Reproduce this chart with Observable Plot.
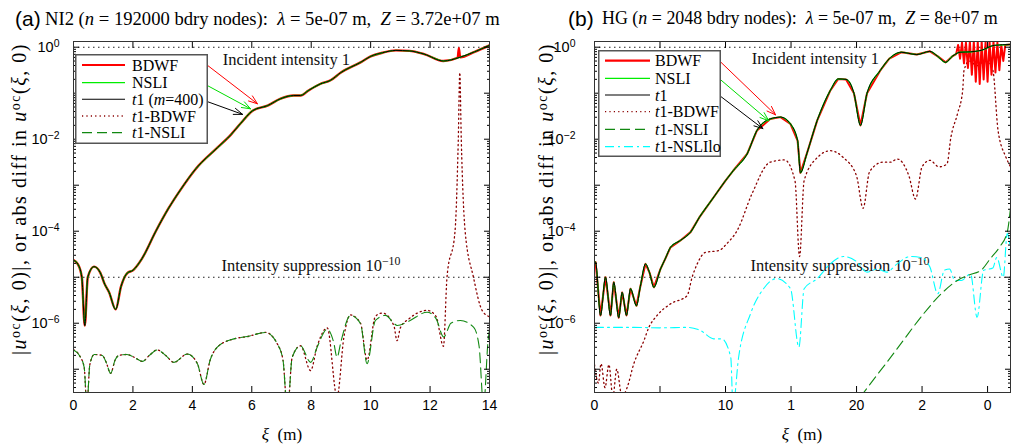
<!DOCTYPE html>
<html><head><meta charset="utf-8">
<script src="https://cdn.jsdelivr.net/npm/d3@7"></script>
<script src="https://cdn.jsdelivr.net/npm/@observablehq/plot@0.6"></script>
<style>
body{margin:0;background:#fff;width:1013px;height:445px;overflow:hidden;position:relative;font-family:"Liberation Serif",serif;color:#000;}
.abs{position:absolute;white-space:nowrap;font-family:"Liberation Serif",serif;}
.ttl{font-size:18px;line-height:1;}
.lab{font-family:"Liberation Sans",Arial,sans-serif;font-size:21px;line-height:1;}
.ylab{font-size:20px;line-height:1;transform:translate(-50%,-50%) rotate(-90deg);}
.xlab{font-size:17px;line-height:1;transform:translate(-50%,-50%);}
i{font-style:italic;}
sup{font-size:70%;vertical-align:0.45em;line-height:0;}
</style></head><body>
<div id="root"></div>
<script>
// ---------------- DATA (y values stored as log10) ----------------
// Panel (a)
const aMainXi  = [0,0.15,0.28,0.38,0.48,0.69,0.9,1.05,1.2,1.42,1.6,1.81,2.0,2.3,2.77,3.2,3.6,4.12,4.85,5.3,5.62,6.03,6.53,6.97,7.41,7.64,7.91,8.3,8.65,9.0,9.66,10.0,10.4,10.85,11.3,11.8,12.45,13.0,13.5,14.0];
const aMainLog = [-4.63,-4.72,-5.0,-6.05,-5.0,-4.77,-4.9,-5.15,-5.33,-5.70,-5.2,-4.91,-4.85,-4.6,-4.0,-3.5,-3.1,-2.64,-2.18,-1.9,-1.66,-1.38,-1.27,-1.12,-1.05,-1.05,-0.94,-0.8,-0.72,-0.55,-0.33,-0.2,-0.12,-0.07,-0.08,-0.15,-0.30,-0.22,-0.1,0.04];
const aRedSpikeXi  = [12.93,12.97,13.01];
const aRedSpikeLog = [-0.23,-0.02,-0.22];
const aNsliXi  = [0,0.2,0.36,0.45,0.55,0.70,0.97,1.1,1.25,1.4,1.53,1.8,2.04,2.32,2.55,2.82,3.1,3.38,3.83,4.17,4.39,4.6,4.84,5.4,5.85,6.46,6.86,7.05,7.2,7.36,7.64,7.98,8.2,8.54,8.75,8.87,9.0,9.32,9.66,9.88,10.16,10.5,10.78,10.89,11.3,11.9,12.2,12.46,12.7,13.02,13.47,13.65,13.8,13.95,14.0];
const aNsliLog = [-6.58,-6.7,-6.96,-7.8,-6.9,-6.68,-6.70,-6.85,-7.09,-6.8,-6.70,-6.68,-6.74,-6.83,-6.7,-6.58,-6.7,-6.85,-6.67,-6.88,-7.33,-6.8,-6.52,-6.34,-6.29,-6.20,-6.45,-6.8,-7.9,-6.74,-6.49,-6.85,-6.52,-6.13,-6.4,-6.74,-6.4,-5.83,-6.01,-6.88,-5.94,-5.83,-6.0,-6.05,-5.95,-5.76,-5.9,-6.30,-6.0,-5.94,-6.09,-6.5,-7.8,-6.4,-6.14];
const aBdwfXi  = [0,0.2,0.36,0.45,0.55,0.70,0.97,1.1,1.25,1.4,1.53,1.8,2.04,2.32,2.55,2.82,3.1,3.38,3.83,4.17,4.39,4.6,4.84,5.4,5.85,6.46,6.86,7.05,7.2,7.36,7.64,7.98,8.2,8.54,8.87,9.1,9.32,9.66,9.88,10.16,10.4,10.78,10.89,11.0,11.3,11.9,12.2,12.45,12.57,12.84,12.95,13.0,13.05,13.18,13.46,13.75,14.0];
const aBdwfLog = [-6.58,-6.7,-6.96,-7.8,-6.9,-6.68,-6.70,-6.85,-7.09,-6.8,-6.70,-6.68,-6.74,-6.83,-6.7,-6.58,-6.7,-6.85,-6.67,-6.88,-7.33,-6.8,-6.52,-6.34,-6.29,-6.20,-6.45,-6.8,-7.9,-6.74,-6.49,-7.03,-6.5,-6.1,-7.6,-6.3,-5.82,-6.0,-6.8,-5.85,-5.78,-6.05,-6.38,-6.1,-5.9,-5.72,-5.85,-6.5,-5.0,-4.0,-2.0,-0.55,-2.0,-4.0,-5.0,-5.72,-5.86];

// Panel (b)
const bMainXi  = [0,0.08,0.46,0.84,1.22,1.47,1.85,2.11,2.44,2.75,3.2,3.5,3.89,4.2,4.53,5.04,5.4,5.8,6.56,7.33,8.0,9.0,10.0,10.6,11.65,12.4,13.4,14.2,14.96,15.5,15.72,16.2,17.0,18.0,18.6,19.2,19.8,20.3,20.8,21.8,22.5,23.4,24.6,25.6,26.2,26.8,27.3,27.9,28.7,29.5,30.5,31.75];
const bMainLog = [-4.67,-4.67,-5.83,-5.0,-5.83,-5.11,-5.88,-5.33,-5.83,-5.25,-5.62,-5.2,-4.71,-4.9,-5.22,-4.82,-4.6,-4.35,-4.20,-4.02,-3.7,-3.3,-2.9,-2.68,-2.32,-1.81,-1.56,-1.52,-1.67,-2.03,-2.73,-2.32,-1.59,-0.94,-0.69,-0.7,-1.0,-1.7,-1.0,-0.51,-0.25,-0.11,-0.16,-0.09,-0.2,-0.33,-0.2,-0.11,-0.1,-0.07,0.04,0.06];
const bRedNoiseXi  = [27.6,27.75,27.9,28.05,28.2,28.35,28.5,28.65,28.8,28.95,29.1,29.25,29.4,29.55,29.7,29.85,30.0,30.15,30.3,30.45,30.6,30.75,30.9,31.05,31.2,31.35];
const bRedNoiseLog = [-0.15,0.05,-0.25,0.1,-0.35,0.1,-0.45,0.12,-0.6,0.12,-0.75,0.12,-0.8,0.12,-0.7,0.12,-0.75,0.12,-0.6,0.12,-0.55,0.1,-0.5,0.05,-0.3,0.05];
const bBdwfXi  = [0,0.3,0.5,0.8,1.1,1.4,1.7,2.1,2.5,3.0,3.77,4.15,4.78,5.8,7.07,7.45,7.84,8.47,9.5,10.1,10.9,12.0,13.4,14.5,15.3,15.65,16.0,17.0,18.0,19.0,20.0,20.5,21.0,22.0,22.6,23.1,24.0,24.5,25.0,25.6,26.3,26.9,27.2,27.7,28.1,28.2,28.6,29.2,29.8,30.4,30.8,31.4,31.75];
const bBdwfLog = [-6.9,-7.3,-6.88,-7.4,-6.9,-7.6,-7.0,-7.6,-7.39,-6.88,-6.38,-6.09,-5.83,-5.58,-5.40,-5.0,-4.71,-4.46,-4.42,-4.27,-3.98,-3.2,-2.5,-2.45,-2.9,-4.55,-2.9,-2.4,-2.25,-2.4,-2.8,-3.5,-2.7,-2.5,-2.5,-2.43,-2.8,-3.3,-2.6,-2.46,-2.6,-2.54,-1.96,-1.45,-0.94,-0.51,-0.3,-0.4,-0.3,-0.5,-1.81,-2.39,-2.6];
const bNsliXi  = [20.3,21.5,22.5,23.5,25.1,26.5,27.7,28.6,29.5,30.2,30.9,31.5,31.75];
const bNsliLog = [-7.6,-7.15,-6.78,-6.4,-5.8,-5.35,-5.07,-4.95,-4.85,-4.6,-4.35,-4.02,-3.5];
const bNsliloXi  = [0,3,5,7.1,8.1,9.1,9.7,10.4,10.57,11.0,11.9,12.9,13.9,14.96,15.6,16.0,17,18,19,20.05,20.8,21.6,22.3,23.1,24.1,24.9,25.6,26.2,26.7,27.1,27.5,28.0,28.7,29.2,29.7,30.4,30.7,31.2,31.5,31.75];
const bNsliloLog = [-6.09,-6.09,-6.1,-6.09,-6.16,-6.34,-6.34,-6.74,-7.8,-6.74,-5.8,-5.25,-5.03,-5.25,-6.52,-5.25,-5.03,-4.71,-4.55,-4.67,-4.89,-4.82,-4.89,-4.71,-4.55,-4.57,-4.78,-5.36,-4.85,-4.82,-5.07,-5.07,-4.93,-5.87,-4.85,-4.8,-4.57,-5.0,-4.05,-4.4];

// reference levels, ticks, labels ("^{...}" marks a superscript)
const refLevels = [1, 1e-5];
const yMajorTicks = [1, 1e-2, 1e-4, 1e-6];
const yMajorLabels = ["10^{0}", "10^{\u22122}", "10^{\u22124}", "10^{\u22126}"];
const aXTicks = [0,2,4,6,8,10,12,14];
const aXLabels = ["0","2","4","6","8","10","12","14"];
const bXTicks = [0,5,10,15,20,25,30];
const bXLabels = ["0","","10","1","20","2","0"];

// annotation arrows: tail (legend text end) -> tip (on curve), log10 y
const aArrows = [
  {c:"#ff0000", x1:4.38, l1:-0.33, x2:6.19, l2:-1.23},
  {c:"#00dd00", x1:4.38, l1:-0.79, x2:5.96, l2:-1.34},
  {c:"#000000", x1:4.45, l1:-1.17, x2:5.69, l2:-1.46}
];
const bArrows = [
  {c:"#ff0000", x1:9.55, l1:-0.30, x2:13.82, l2:-1.47},
  {c:"#00dd00", x1:9.55, l1:-0.69, x2:13.30, l2:-1.60},
  {c:"#000000", x1:9.63, l1:-1.07, x2:12.85, l2:-1.77}
];
const aNotes = [{x:5.02, l:-0.27, t:"Incident intensity 1"},{x:4.98, l:-4.75, t:"Intensity suppression 10^{\u221210}"}];
const bNotes = [{x:12.0, l:-0.24, t:"Incident intensity 1"},{x:11.9, l:-4.75, t:"Intensity suppression 10^{\u221210}"}];

// ---------------- helpers ----------------
const Y_DOMAIN = [3.12e-8, 1.33];
const pts = (xs, ls) => xs.map((x, i) => ({x, y: Math.pow(10, ls[i])}));
const minorTicks = [];
for (let e = -8; e <= 0; e++) for (let k = 2; k <= 9; k++) { const v = k * Math.pow(10, e); if (v > Y_DOMAIN[0] && v < Y_DOMAIN[1]) minorTicks.push(v); }
const allDecades = [1,1e-1,1e-2,1e-3,1e-4,1e-5,1e-6,1e-7];

const C = {red:"#ff0000", green:"#00ee00", black:"#000000", dred:"#8b0000", dgreen:"#118811", cyan:"#00ffff"};

function axes(xTicks, xLabels, labPad) {
  const fmtX = d => xLabels[xTicks.indexOf(d)];
  const fmtY = d => yMajorLabels[yMajorTicks.indexOf(d)];
  return [
    Plot.axisX({anchor:"bottom", ticks:xTicks, tickSize:0, tickPadding:8, tickFormat:fmtX, label:null}),
    Plot.axisX({anchor:"bottom", ticks:xTicks, tickSize:-6, tickFormat:()=>"", label:null}),
    Plot.axisX({anchor:"top", ticks:xTicks, tickSize:-6, tickFormat:()=>"", label:null}),
    Plot.axisY({anchor:"left", ticks:yMajorTicks, tickSize:0, tickPadding:labPad, tickFormat:fmtY, label:null, fontSize:14.5}),
    Plot.axisY({anchor:"left", ticks:allDecades, tickSize:-6, tickFormat:()=>"", label:null}),
    Plot.axisY({anchor:"left", ticks:minorTicks, tickSize:-3, tickFormat:()=>"", label:null}),
    Plot.axisY({anchor:"right", ticks:allDecades, tickSize:-6, tickFormat:()=>"", label:null}),
    Plot.axisY({anchor:"right", ticks:minorTicks, tickSize:-3, tickFormat:()=>"", label:null}),
    Plot.frame({stroke:"#333", strokeWidth:1})
  ];
}
function refMarks(notes) {
  return [
    Plot.ruleY(refLevels, {stroke:"#222", strokeDasharray:"1.5,3.5", strokeWidth:1.1}),
    Plot.text(notes, {x:"x", y:d=>Math.pow(10,d.l), text:"t", textAnchor:"start", fontFamily:"Liberation Serif", fontSize:16.5, fill:"#111"})
  ];
}
function arrowMarks(arr) {
  return Plot.arrow(arr, {x1:"x1", y1:d=>Math.pow(10,d.l1), x2:"x2", y2:d=>Math.pow(10,d.l2), stroke:"c", strokeWidth:1, headLength:14, headAngle:40, bend:0});
}
const L = (xs, ls, o) => Plot.line(pts(xs, ls), {x:"x", y:"y", curve:"monotone-x", clip:true, ...o});

const common = {height:415, marginTop:11, marginBottom:53, y:{type:"log", domain:Y_DOMAIN}, style:{fontFamily:"Liberation Sans, Arial, sans-serif", fontSize:"14px", color:"#000", background:"transparent"}};

// ----- Panel (a)
const aRed = pts(aMainXi, aMainLog).filter(d => d.x < 12.9 || d.x > 13.05).concat(pts(aRedSpikeXi, aRedSpikeLog)).sort((p,q)=>p.x-q.x);
const plotA = Plot.plot({
  ...common, width:506, marginLeft:73, marginRight:17,
  x:{domain:[0,14]},
  marks:[
    ...refMarks(aNotes),
    L(aBdwfXi, aBdwfLog, {stroke:C.dred, strokeWidth:1.3, strokeDasharray:"1.2,3.2"}),
    L(aNsliXi, aNsliLog, {stroke:C.dgreen, strokeWidth:1.1, strokeDasharray:"10,5"}),
    Plot.line(aRed, {x:"x", y:"y", curve:"monotone-x", clip:true, stroke:C.red, strokeWidth:2.4}),
    L(aMainXi, aMainLog, {stroke:C.green, strokeWidth:1.4}),
    L(aMainXi, aMainLog, {stroke:C.black, strokeWidth:1}),
    arrowMarks(aArrows),
    ...axes(aXTicks, aXLabels, 14)
  ]
});
// ----- Panel (b)
const bRed = pts(bMainXi, bMainLog).filter(d => d.x < 27.5 || d.x > 31.4).concat(pts(bRedNoiseXi, bRedNoiseLog)).sort((p,q)=>p.x-q.x);
const plotB = Plot.plot({
  ...common, width:507, marginLeft:88, marginRight:3,
  x:{domain:[0,31.75]},
  marks:[
    ...refMarks(bNotes),
    L(bBdwfXi, bBdwfLog, {stroke:C.dred, strokeWidth:1.3, strokeDasharray:"1.2,3.2"}),
    L(bNsliloXi, bNsliloLog, {stroke:C.cyan, strokeWidth:1.1, strokeDasharray:"9,4,2,4"}),
    L(bNsliXi, bNsliLog, {stroke:C.dgreen, strokeWidth:1.1, strokeDasharray:"10,5"}),
    Plot.line(bRed, {x:"x", y:"y", curve:"linear", clip:true, stroke:C.red, strokeWidth:2}),
    L(bMainXi, bMainLog, {stroke:C.green, strokeWidth:1.4}),
    L(bMainXi, bMainLog, {stroke:C.black, strokeWidth:1}),
    arrowMarks(bArrows),
    ...axes(bXTicks, bXLabels, 19)
  ]
});

// turn "base^{sup}" text into real superscript tspans
function supify(svg) {
  svg.querySelectorAll("text").forEach(t => {
    const targets = t.querySelectorAll("tspan").length ? Array.from(t.querySelectorAll("tspan")) : [t];
    targets.forEach(el => {
      const m = /^(.*)\^\{(.*)\}$/.exec(el.textContent);
      if (!m) return;
      el.textContent = "";
      const ns = "http://www.w3.org/2000/svg";
      const a = document.createElementNS(ns, "tspan"); a.textContent = m[1];
      const b = document.createElementNS(ns, "tspan"); b.textContent = m[2];
      b.setAttribute("dy", "-0.5em"); b.setAttribute("font-size", "72%");
      el.appendChild(a); el.appendChild(b);
    });
  });
}
supify(plotA); supify(plotB);

const root = document.getElementById("root");
function place(el, left, top) { el.style.position = "absolute"; el.style.left = left + "px"; el.style.top = top + "px"; root.appendChild(el); }
place(plotA, 0, 30);
place(plotB, 506, 30);

function html(s, cls, left, top) { const d = document.createElement("div"); d.className = "abs " + cls; d.innerHTML = s; d.style.left = left + "px"; d.style.top = top + "px"; root.appendChild(d); return d; }
// scale a title's font so its rendered width matches the reference
function fit(el, target) {
  const fs = parseFloat(getComputedStyle(el).fontSize);
  const w = el.getBoundingClientRect().width;
  if (w > 0) el.style.fontSize = (fs * target / w) + "px";
}
// keep the glyph size, stretch a rotated label to the reference length with letter spacing
function spread(el, target) {
  const len = el.getBoundingClientRect().height;
  const n = el.textContent.length;
  if (len > 0 && len < target) el.style.letterSpacing = ((target - len) / n) + "px";
}

html('(a)', "lab", 15, 8);
html('(b)', "lab", 568, 8);
fit(html('NI2 (<i>n</i> = 192000 bdry nodes): &nbsp;<i>λ</i> = 5e-07 m, &nbsp;<i>Z</i> = 3.72e+07 m', "ttl", 45, 10), 455);
fit(html('HG (<i>n</i> = 2048 bdry nodes): &nbsp;<i>λ</i> = 5e-07 m, &nbsp;<i>Z</i> = 8e+07 m', "ttl", 602, 10), 396);
const ylabTxt = '|<i>u</i><sup>oc</sup>(<i>ξ</i>, 0)|, or abs diff in <i>u</i><sup>oc</sup>(<i>ξ</i>, 0)';
spread(html(ylabTxt, "ylab", 19, 199), 312);
spread(html(ylabTxt, "ylab", 546, 199), 312);
html('<i>ξ</i> &nbsp;(m)', "xlab", 282, 434);
html('<i>ξ</i> &nbsp;(m)', "xlab", 802, 434);

// legends
function legend(items, left, top, w, h, rowY, sx1, sx2, tx) {
  const ns = "http://www.w3.org/2000/svg";
  const svg = document.createElementNS(ns, "svg");
  svg.setAttribute("width", w); svg.setAttribute("height", h);
  svg.style.position = "absolute"; svg.style.left = left + "px"; svg.style.top = top + "px";
  let s = `<rect x="0.75" y="0.75" width="${w-1.5}" height="${h-1.5}" fill="#fff" stroke="#555" stroke-width="1.5"/>`;
  items.forEach((it, i) => {
    const y = rowY[i];
    s += `<line x1="${sx1}" x2="${sx2}" y1="${y}" y2="${y}" stroke="${it.c}" stroke-width="${it.w}" ${it.dash ? `stroke-dasharray="${it.dash}"` : ""}/>`;
    s += `<text x="${tx}" y="${y}" dy="0.35em" font-family="Liberation Serif" font-size="16">${it.t}</text>`;
  });
  svg.innerHTML = s;
  root.appendChild(svg);
}
const it = (t, c, w, dash) => ({t, c, w, dash});
legend([
  it("BDWF", C.red, 2.2), it("NSLI", C.green, 1.3),
  it('<tspan font-style="italic">t</tspan>1 (<tspan font-style="italic">m</tspan>=400)', C.black, 1.1),
  it('<tspan font-style="italic">t</tspan>1-BDWF', C.dred, 1.3, "1.2,3.2"),
  it('<tspan font-style="italic">t</tspan>1-NSLI', C.dgreen, 1.2, "10,5")
], 75, 54, 133, 90, [11, 28.7, 45.3, 62, 78.7], 7, 50, 57);
legend([
  it("BDWF", C.red, 2.2), it("NSLI", C.green, 1.3),
  it('<tspan font-style="italic">t</tspan>1', C.black, 1.1),
  it('<tspan font-style="italic">t</tspan>1-BDWF', C.dred, 1.3, "1.2,3.2"),
  it('<tspan font-style="italic">t</tspan>1-NSLI', C.dgreen, 1.2, "10,5"),
  it('<tspan font-style="italic">t</tspan>1-NSLIlo', C.cyan, 1.2, "9,4,2,4")
], 598, 50, 123, 107, [10.7, 28.3, 45, 61.7, 79.3, 96.7], 7, 52, 57);
</script>
</body></html>
